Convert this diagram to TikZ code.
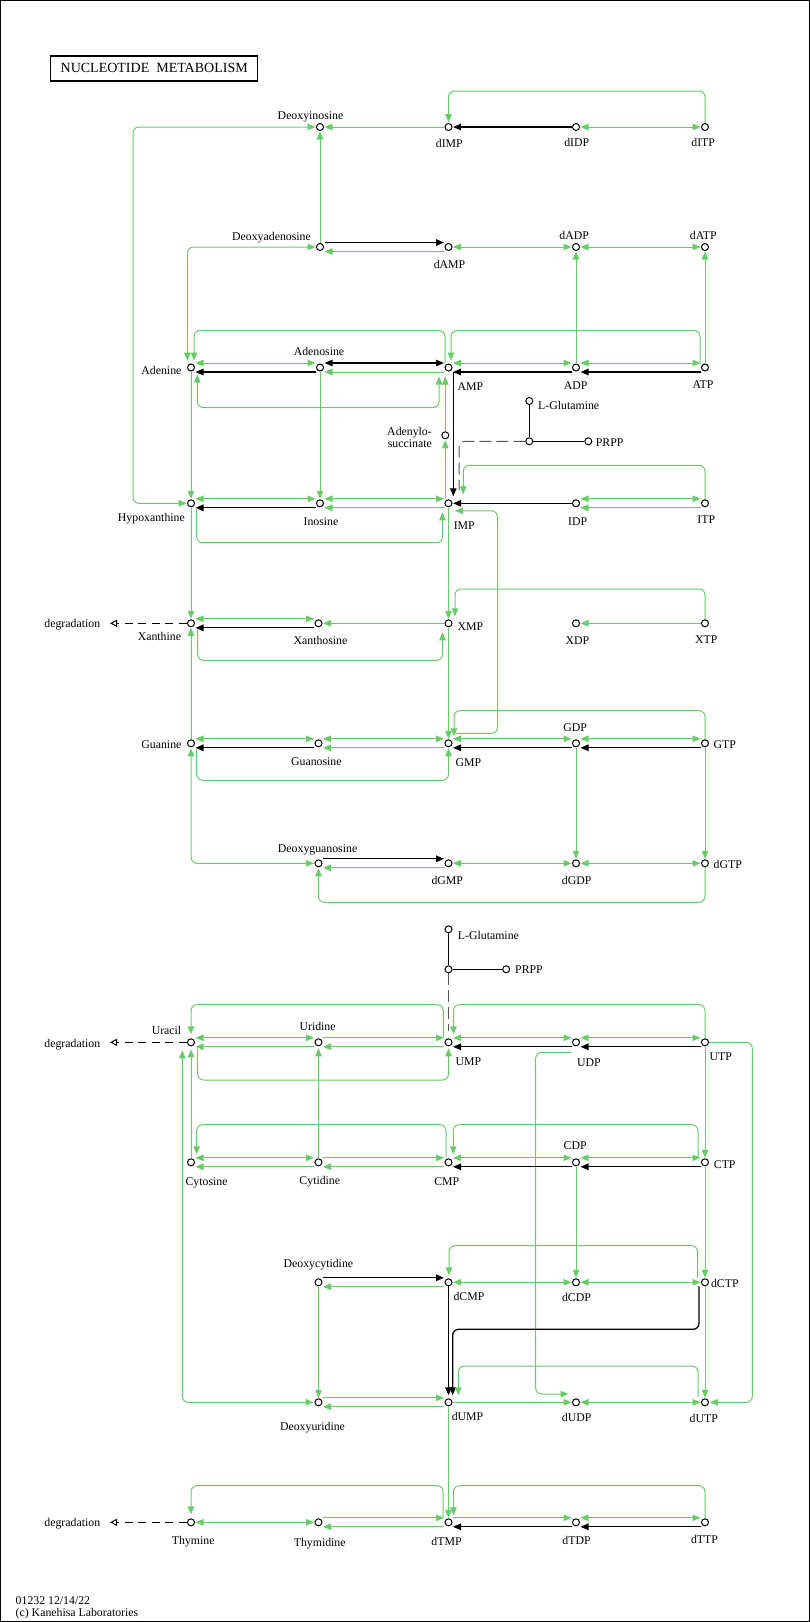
\documentclass[tikz,border=0pt]{standalone}
\usepackage{fontspec}
\setmainfont{Liberation Serif}
\usetikzlibrary{arrows.meta,backgrounds}
\definecolor{kg}{RGB}{102,204,102}
\definecolor{kd}{RGB}{85,85,85}
\newcommand\HU[3]{\draw[#1] ([shift={(4.5,-4.5)}]#2.center) -- ([shift={(-4.5,-4.5)}]#3.center);}
\newcommand\HL[3]{\draw[#1] ([shift={(4.5,4.5)}]#2.center) -- ([shift={(-4.5,4.5)}]#3.center);}
\newcommand\HM[3]{\draw[#1] ([shift={(4.5,0)}]#2.center) -- ([shift={(-4.5,0)}]#3.center);}
\newcommand\VV[3]{\draw[#1] ([shift={(0,4.5)}]#2.center) -- ([shift={(0,-4.5)}]#3.center);}
\tikzset{
 cpd/.style={circle,draw=black,line width=1pt,fill=white,minimum size=7pt,inner sep=0pt},
 g/.style={draw=kg,line width=1pt},
 k/.style={draw=black,line width=1.3pt},
 lab/.style={inner sep=0pt,text height=8.5pt,text depth=2.5pt},
 dg/.style={draw=black,line width=1pt,dash pattern=on 8pt off 5.5pt,-{Triangle[open,length=7pt,width=7pt]}},
 gd/.style={draw=kd,line width=1pt,dash pattern=on 12pt off 5pt},
 lp/.style={rounded corners=6pt},
 >={Triangle[length=8pt,width=6.5pt]}
}
\begin{document}
\begin{tikzpicture}[x=1pt,y=-1pt,font=\fontsize{11.8}{13}\selectfont]
\useasboundingbox (0,0) rectangle (810,1622);
\draw[line width=1pt] (0.5,0.5) rectangle (809.5,1621.5);
\node[draw,line width=1.5pt,minimum width=207pt,minimum height=25.3pt,inner sep=0pt,font=\fontsize{14}{16}\selectfont] (title) at (154.2,68.4) {NUCLEOTIDE\ \ METABOLISM};
% compounds
\node[cpd] (dINO) at (320,127) {};
\node[cpd] (dIMP) at (448.5,127) {};
\node[cpd] (dIDP) at (576,127) {};
\node[cpd] (dITP) at (705,127) {};
\node[cpd] (dADO) at (320,247) {};
\node[cpd] (dAMP) at (448.5,247) {};
\node[cpd] (dADP) at (576,247) {};
\node[cpd] (dATP) at (705,247) {};
\node[cpd] (ADE) at (191,367.5) {};
\node[cpd] (ADO) at (320,367.5) {};
\node[cpd] (AMP) at (448.5,367.5) {};
\node[cpd] (ADP) at (576,367.5) {};
\node[cpd] (ATP) at (705,367.5) {};
\node[cpd] (SAMP) at (445.3,435.3) {};
\node[cpd] (GLN1) at (529.3,401) {};
\node[cpd] (J1) at (529.3,441.3) {};
\node[cpd] (PRPP1) at (588.3,441.3) {};
\node[cpd] (HYP) at (191,503.3) {};
\node[cpd] (INO) at (320,503.3) {};
\node[cpd] (IMP) at (448.5,503.3) {};
\node[cpd] (IDP) at (576,503.3) {};
\node[cpd] (ITP) at (705,503.3) {};
\node[cpd] (XAN) at (191,623.3) {};
\node[cpd] (XAO) at (318.5,623.3) {};
\node[cpd] (XMP) at (448.5,623.3) {};
\node[cpd] (XDP) at (576,623.3) {};
\node[cpd] (XTP) at (705,623.3) {};
\node[cpd] (GUA) at (191,743.3) {};
\node[cpd] (GUO) at (318.5,743.3) {};
\node[cpd] (GMP) at (448.5,743.3) {};
\node[cpd] (GDP) at (576,743.3) {};
\node[cpd] (GTP) at (705,743.3) {};
\node[cpd] (dGUO) at (318.5,863.3) {};
\node[cpd] (dGMP) at (448.5,863.3) {};
\node[cpd] (dGDP) at (576,863.3) {};
\node[cpd] (dGTP) at (705,863.3) {};
\node[cpd] (GLN2) at (448.5,929.3) {};
\node[cpd] (J2) at (448.5,969.3) {};
\node[cpd] (PRPP2) at (506.2,969.3) {};
\node[cpd] (URA) at (191,1042.3) {};
\node[cpd] (URI) at (318.5,1042.3) {};
\node[cpd] (UMP) at (448.5,1042.3) {};
\node[cpd] (UDP) at (576,1042.3) {};
\node[cpd] (UTP) at (705,1042.3) {};
\node[cpd] (CYT) at (191,1162.3) {};
\node[cpd] (CYD) at (318.5,1162.3) {};
\node[cpd] (CMP) at (448.5,1162.3) {};
\node[cpd] (CDP) at (576,1162.3) {};
\node[cpd] (CTP) at (705,1162.3) {};
\node[cpd] (dCYD) at (318.5,1282.3) {};
\node[cpd] (dCMP) at (448.5,1282.3) {};
\node[cpd] (dCDP) at (576,1282.3) {};
\node[cpd] (dCTP) at (705,1282.3) {};
\node[cpd] (dURI) at (318.5,1402.3) {};
\node[cpd] (dUMP) at (448.5,1402.3) {};
\node[cpd] (dUDP) at (576,1402.3) {};
\node[cpd] (dUTP) at (705,1402.3) {};
\node[cpd] (THY) at (191,1522.3) {};
\node[cpd] (THD) at (318.5,1522.3) {};
\node[cpd] (dTMP) at (448.5,1522.3) {};
\node[cpd] (dTDP) at (576,1522.3) {};
\node[cpd] (dTTP) at (705,1522.3) {};
\coordinate (degX) at (110,623.3);
\coordinate (degU) at (110,1042.3);
\coordinate (degT) at (110,1522.3);
% labels
\node[lab] (t1) at (310.5,116) {Deoxyinosine};
\node[lab] (t2) at (449.3,144) {dIMP};
\node[lab] (t3) at (576.7,143) {dIDP};
\node[lab] (t4) at (703.2,143.7) {dITP};
\node[lab] (t5) at (271.5,237) {Deoxyadenosine};
\node[lab] (t6) at (449.5,265.7) {dAMP};
\node[lab] (t7) at (574.1,236) {dADP};
\node[lab] (t8) at (703.3,236.7) {dATP};
\node[lab] (t9) at (319,352) {Adenosine};
\node[lab] (t10) at (161.4,371) {Adenine};
\node[lab] (t11) at (470.5,387.7) {AMP};
\node[lab] (t12) at (575.7,386) {ADP};
\node[lab] (t13) at (703,385) {ATP};
\node[lab] (t14) at (568.7,406) {L-Glutamine};
\node[lab] (t15) at (609.7,443.7) {PRPP};
\node[inner sep=0pt,align=right,anchor=east,font=\fontsize{11.8}{12}\selectfont] (t16) at (432,437) {Adenylo-\\succinate};
\node[lab] (t17) at (151.4,518) {Hypoxanthine};
\node[lab] (t18) at (321,522) {Inosine};
\node[lab] (t19) at (464.3,526.7) {IMP};
\node[lab] (t20) at (577.7,522.3) {IDP};
\node[lab] (t21) at (706.3,520.3) {ITP};
\node[lab] (t22) at (72.3,624.3) {degradation};
\node[lab] (t23) at (159.4,637) {Xanthine};
\node[lab] (t24) at (320.5,641) {Xanthosine};
\node[lab] (t25) at (470.5,627) {XMP};
\node[lab] (t26) at (577.3,641.7) {XDP};
\node[lab] (t27) at (706.3,640.7) {XTP};
\node[lab] (t28) at (575.2,728) {GDP};
\node[lab] (t29) at (724.7,745.3) {GTP};
\node[lab] (t30) at (161.4,745.7) {Guanine};
\node[lab] (t31) at (316.4,762) {Guanosine};
\node[lab] (t32) at (468.5,763.7) {GMP};
\node[lab] (t33) at (317.6,849) {Deoxyguanosine};
\node[lab] (t34) at (447.3,881) {dGMP};
\node[lab] (t35) at (576.7,881) {dGDP};
\node[lab] (t36) at (727.8,865.7) {dGTP};
\node[lab] (t37) at (488.4,936) {L-Glutamine};
\node[lab] (t38) at (529,970.3) {PRPP};
\node[lab] (t39) at (166.5,1031.7) {Uracil};
\node[lab] (t40) at (317.6,1027) {Uridine};
\node[lab] (t41) at (468.5,1062.7) {UMP};
\node[lab] (t42) at (589,1063.7) {UDP};
\node[lab] (t43) at (720.7,1057.7) {UTP};
\node[lab] (t44) at (72.3,1044) {degradation};
\node[lab] (t45) at (206.6,1182.7) {Cytosine};
\node[lab] (t46) at (319.8,1181) {Cytidine};
\node[lab] (t47) at (446.8,1182) {CMP};
\node[lab] (t48) at (575.2,1146.7) {CDP};
\node[lab] (t49) at (724.7,1165.3) {CTP};
\node[lab] (t50) at (318.4,1264) {Deoxycytidine};
\node[lab] (t51) at (469,1297.7) {dCMP};
\node[lab] (t52) at (576.5,1298.7) {dCDP};
\node[lab] (t53) at (724.8,1284) {dCTP};
\node[lab] (t54) at (312.5,1427) {Deoxyuridine};
\node[lab] (t55) at (467.5,1417.7) {dUMP};
\node[lab] (t56) at (576.7,1418.7) {dUDP};
\node[lab] (t57) at (703.8,1419.7) {dUTP};
\node[lab] (t58) at (72.3,1523) {degradation};
\node[lab] (t59) at (193.2,1541.7) {Thymine};
\node[lab] (t60) at (319.7,1543.7) {Thymidine};
\node[lab] (t61) at (446.5,1542) {dTMP};
\node[lab] (t62) at (576.5,1541.7) {dTDP};
\node[lab] (t63) at (704.5,1540) {dTTP};
\node[lab,anchor=west] (t64) at (15.5,1601) {01232 12/14/22};
\node[lab,anchor=west] (t65) at (15.5,1613) {(c) Kanehisa Laboratories};
% connectors
\begin{scope}[on background layer]
% deoxyinosine row
\HM{g,<-}{dINO}{dIMP}
\HM{k,<-}{dIMP}{dIDP}
\HM{g,<->}{dIDP}{dITP}
\draw[g,lp,->] ([shift={(0,-4)}]dITP.center) -- ([shift={(0,-36)}]dITP.center) -- ([shift={(0,-36)}]dIMP.center) -- ([shift={(0,-5)}]dIMP.center);
\draw[g,lp,<->] ([shift={(-4.5,0)}]dINO.center) -- ([shift={(-187,0)}]dINO.center) -- ([shift={(-58,0)}]HYP.center) -- ([shift={(-4.5,0)}]HYP.center);
\VV{g,<-}{dINO}{dADO}
% deoxyadenosine row
\HU{k,->}{dADO}{dAMP}
\HL{g,<-}{dADO}{dAMP}
\HM{g,<->}{dAMP}{dADP}
\HM{g,<->}{dADP}{dATP}
\VV{g,<-}{dADP}{ADP}
\VV{g,<-}{dATP}{ATP}
\draw[g,lp,<->] ([shift={(-4.5,0)}]dADO.center) -- ([shift={(-132.5,0)}]dADO.center) -- ([shift={(-3.5,-7)}]ADE.center);
% adenine row
\HU{g,<->}{ADE}{ADO}
\HL{k,<-}{ADE}{ADO}
\HU{k,<->}{ADO}{AMP}
\HL{g,<-}{ADO}{AMP}
\HU{g,<->}{AMP}{ADP}
\HL{k,<-}{AMP}{ADP}
\HU{g,<->}{ADP}{ATP}
\HL{k,<-}{ADP}{ATP}
\draw[g,lp,->] ([shift={(-3.5,-5)}]AMP.center) -- ([shift={(-3.5,-37)}]AMP.center) -- ([shift={(3,-37)}]ADE.center) -- ([shift={(3,-7)}]ADE.center);
\draw[g,lp,->] ([shift={(-5,-4)}]ATP.center) -- ([shift={(-5,-37)}]ATP.center) -- ([shift={(2.5,-37)}]AMP.center) -- ([shift={(2.5,-7)}]AMP.center);
\draw[g,lp,<->] ([shift={(6.3,7)}]ADE.center) -- ([shift={(6.3,40)}]ADE.center) -- ([shift={(-9.5,40)}]AMP.center) -- ([shift={(-9.5,9)}]AMP.center);
\VV{g,->}{ADE}{HYP}
\VV{g,->}{ADO}{INO}
\draw[k,->] ([shift={(4.8,4)}]AMP.center) -- ([shift={(4.8,-7)}]IMP.center);
\draw[g,->] ([shift={(-3.2,-5)}]IMP.center) -- ([shift={(0,5)}]SAMP.center);
\draw[g,->] ([shift={(0,-4)}]SAMP.center) -- ([shift={(-3.2,9)}]AMP.center);
\draw[k] (GLN1) -- (J1) -- (PRPP1);
\draw[gd,lp] ([shift={(-4,0)}]J1.center) -- ([shift={(10.5,-62)}]IMP.center) -- ([shift={(10.5,-13)}]IMP.center);
\draw[g,lp,->] ([shift={(0,-4)}]ITP.center) -- ([shift={(0,-38)}]ITP.center) -- ([shift={(14.8,-38)}]IMP.center) -- ([shift={(14.8,-9)}]IMP.center);
\HM{k,<-}{IMP}{IDP}
\HU{g,<->}{IDP}{ITP}
\HL{g,<-}{IDP}{ITP}
% IMP row
\HU{g,<->}{HYP}{INO}
\HL{k,<-}{HYP}{INO}
\HU{g,<->}{INO}{IMP}
\HL{g,<-}{INO}{IMP}
\draw[g,lp,->] ([shift={(5.7,6)}]HYP.center) -- ([shift={(5.7,39.4)}]HYP.center) -- ([shift={(-6,39.4)}]IMP.center) -- ([shift={(-6,9)}]IMP.center);
\draw[g,lp,->] ([shift={(7,-10)}]GMP.center) -- ([shift={(49,-10)}]GMP.center) -- ([shift={(49,7.5)}]IMP.center) -- ([shift={(6.5,7.5)}]IMP.center);
\VV{g,->}{IMP}{XMP}
\draw[g,lp,->] ([shift={(0,-4)}]XTP.center) -- ([shift={(0,-34.3)}]XTP.center) -- ([shift={(6.5,-34.3)}]XMP.center) -- ([shift={(6.5,-7)}]XMP.center);
\HM{g,<-}{XDP}{XTP}
% xanthine row
\HU{g,<->}{XAN}{XAO}
\HL{k,<-}{XAN}{XAO}
\HM{g,<-}{XAO}{XMP}
\draw[g,lp,->] ([shift={(6.7,6)}]XAN.center) -- ([shift={(6.7,37)}]XAN.center) -- ([shift={(-6,37)}]XMP.center) -- ([shift={(-6,9)}]XMP.center);
\VV{g,->}{HYP}{XAN}
\draw[dg] ([shift={(-4.5,0)}]XAN.center) -- (degX);
\VV{g,<-}{XAN}{GUA}
\VV{g,->}{XMP}{GMP}
% guanine row
\draw[g,lp,->] ([shift={(0,-4)}]GTP.center) -- ([shift={(0,-32.6)}]GTP.center) -- ([shift={(5.5,-32.6)}]GMP.center) -- ([shift={(5.5,-7)}]GMP.center);
\HU{g,<->}{GUA}{GUO}
\HL{k,<-}{GUA}{GUO}
\HU{g,<->}{GUO}{GMP}
\HL{g,<-}{GUO}{GMP}
\draw[g,lp,->] ([shift={(5.7,6)}]GUA.center) -- ([shift={(5.7,37)}]GUA.center) -- ([shift={(0,37)}]GMP.center) -- ([shift={(0,5)}]GMP.center);
\HU{g,<->}{GMP}{GDP}
\HL{k,<-}{GMP}{GDP}
\HU{g,<->}{GDP}{GTP}
\HL{k,<-}{GDP}{GTP}
\VV{g,->}{GDP}{dGDP}
\VV{g,->}{GTP}{dGTP}
\draw[g,lp,<->] ([shift={(0,5)}]GUA.center) -- ([shift={(0,120)}]GUA.center) -- ([shift={(-4.5,0)}]dGUO.center);
% deoxyguanosine row
\HU{k,->}{dGUO}{dGMP}
\HL{g,<-}{dGUO}{dGMP}
\HM{g,<->}{dGMP}{dGDP}
\HM{g,<->}{dGDP}{dGTP}
\draw[g,lp,->] ([shift={(0,4)}]dGTP.center) -- ([shift={(0,39)}]dGTP.center) -- ([shift={(0,39)}]dGUO.center) -- ([shift={(0,5)}]dGUO.center);
% pyrimidines
\draw[k] (GLN2) -- (J2) -- (PRPP2);
\draw[gd] ([shift={(0,4)}]J2.center) -- ([shift={(0,-11)}]UMP.center);
\draw[g,lp,->] ([shift={(-5.2,-5)}]UMP.center) -- ([shift={(-5.2,-37.6)}]UMP.center) -- ([shift={(0,-37.6)}]URA.center) -- ([shift={(0,-8)}]URA.center);
\draw[g,lp,->] ([shift={(0,-4)}]UTP.center) -- ([shift={(0,-37.6)}]UTP.center) -- ([shift={(5,-37.6)}]UMP.center) -- ([shift={(5,-8)}]UMP.center);
\HU{g,<->}{URA}{URI}
\HL{g,<-}{URA}{URI}
\HU{g,->}{URI}{UMP}
\HL{g,<-}{URI}{UMP}
\draw[g,lp,->] ([shift={(6.7,6)}]URA.center) -- ([shift={(6.7,37.7)}]URA.center) -- ([shift={(0,37.7)}]UMP.center) -- ([shift={(0,6)}]UMP.center);
\HU{g,<->}{UMP}{UDP}
\HL{k,<-}{UMP}{UDP}
\HU{g,<->}{UDP}{UTP}
\HL{k,<-}{UDP}{UTP}
\draw[g,->] ([shift={(0,-4)}]CYD.center) -- ([shift={(0,6)}]URI.center);
\draw[g,->] ([shift={(0,-4)}]CYT.center) -- ([shift={(0,7)}]URA.center);
\draw[g,lp,<->] ([shift={(-8.7,8)}]URA.center) -- ([shift={(-8.7,360)}]URA.center) -- ([shift={(-5,0)}]dURI.center);
\VV{g,->}{UTP}{CTP}
\draw[g,lp,->] ([shift={(4,0)}]UTP.center) -- ([shift={(47.3,0)}]UTP.center) -- ([shift={(47.3,0)}]dUTP.center) -- ([shift={(5,0)}]dUTP.center);
\draw[g,lp,->] ([shift={(-4.5,10)}]UDP.center) -- ([shift={(-40.3,10)}]UDP.center) -- ([shift={(-40.3,-8.3)}]dUDP.center) -- ([shift={(-7.5,-8.3)}]dUDP.center);
\draw[dg] ([shift={(-4.5,0)}]URA.center) -- (degU);
% cytosine row
\draw[g,lp,->] ([shift={(-2.5,-5)}]CMP.center) -- ([shift={(-2.5,-37.6)}]CMP.center) -- ([shift={(5.7,-37.6)}]CYT.center) -- ([shift={(5.7,-8)}]CYT.center);
\draw[g,lp,->] ([shift={(-7,-5)}]CTP.center) -- ([shift={(-7,-37.6)}]CTP.center) -- ([shift={(4.8,-37.6)}]CMP.center) -- ([shift={(4.8,-8)}]CMP.center);
\HU{g,<->}{CYT}{CYD}
\HL{g,<-}{CYT}{CYD}
\HU{g,->}{CYD}{CMP}
\HL{g,<-}{CYD}{CMP}
\HU{g,<->}{CMP}{CDP}
\HL{k,<-}{CMP}{CDP}
\HU{g,<->}{CDP}{CTP}
\HL{k,<-}{CDP}{CTP}
\VV{g,->}{CDP}{dCDP}
\VV{g,->}{CTP}{dCTP}
% deoxycytidine row
\HU{k,->}{dCYD}{dCMP}
\HL{g,<-}{dCYD}{dCMP}
\HM{g,<->}{dCMP}{dCDP}
\HM{g,<->}{dCDP}{dCTP}
\draw[g,lp,->] ([shift={(-7.5,-5)}]dCTP.center) -- ([shift={(-7.5,-36.6)}]dCTP.center) -- ([shift={(0.5,-36.6)}]dCMP.center) -- ([shift={(0.5,-7)}]dCMP.center);
\VV{g,->}{dCYD}{dURI}
\draw[k,->] ([shift={(0,4)}]dCMP.center) -- ([shift={(0,-7)}]dUMP.center);
\draw[k,lp,->] ([shift={(-6,4)}]dCTP.center) -- ([shift={(-6,47)}]dCTP.center) -- ([shift={(4.2,-73)}]dUMP.center) -- ([shift={(4.2,-7)}]dUMP.center);
\draw[g,lp,->] ([shift={(-7,-5)}]dUTP.center) -- ([shift={(-7,-36.3)}]dUTP.center) -- ([shift={(9.8,-36.3)}]dUMP.center) -- ([shift={(9.8,-7)}]dUMP.center);
\VV{g,->}{dCTP}{dUTP}
% deoxyuridine row
\HU{g,->}{dURI}{dUMP}
\HL{g,<-}{dURI}{dUMP}
\HM{g,->}{dUMP}{dUDP}
\HM{g,<->}{dUDP}{dUTP}
\VV{g,->}{dUMP}{dTMP}
% thymine row
\draw[g,lp,->] ([shift={(-5.3,-5)}]dTMP.center) -- ([shift={(-5.3,-36.6)}]dTMP.center) -- ([shift={(0,-36.6)}]THY.center) -- ([shift={(0,-8)}]THY.center);
\draw[g,lp,->] ([shift={(0,-4)}]dTTP.center) -- ([shift={(0,-36.6)}]dTTP.center) -- ([shift={(5,-36.6)}]dTMP.center) -- ([shift={(5,-7)}]dTMP.center);
\HM{g,<->}{THY}{THD}
\HU{g,->}{THD}{dTMP}
\HL{g,<-}{THD}{dTMP}
\HU{g,->}{dTMP}{dTDP}
\HL{k,<-}{dTMP}{dTDP}
\HU{g,<->}{dTDP}{dTTP}
\HL{k,<-}{dTDP}{dTTP}
\draw[dg] ([shift={(-4.5,0)}]THY.center) -- (degT);
\end{scope}
\end{tikzpicture}
\end{document}
